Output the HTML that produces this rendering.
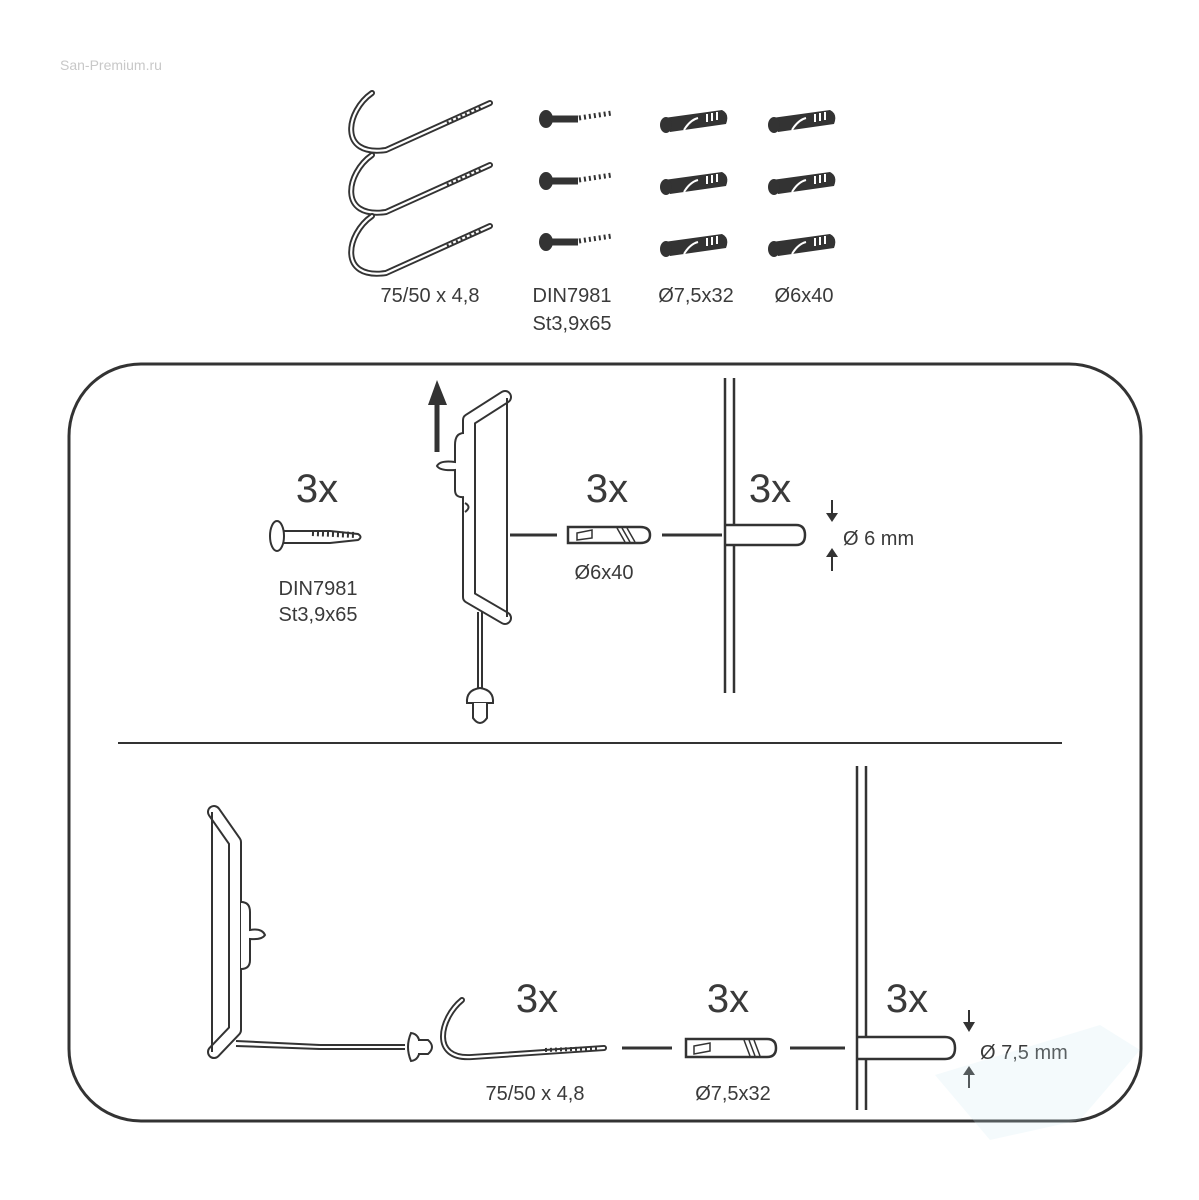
<!DOCTYPE html>
<html><head><meta charset="utf-8"><style>
html,body{margin:0;padding:0;background:#fff;}
svg{display:block;}
text{font-family:"Liberation Sans",sans-serif;fill:#3a3a3a;}
</style></head><body>
<svg width="1199" height="1200" viewBox="0 0 1199 1200" xmlns="http://www.w3.org/2000/svg">
<defs>
<g id="hook">
<path d="M0,0 C-26,18 -34,64 14,57 L118,10" fill="none" stroke="#333" stroke-width="6" stroke-linecap="round"/>
<path d="M0,0 C-26,18 -34,64 14,57 L118,10" fill="none" stroke="#fff" stroke-width="2.2" stroke-linecap="round"/>
<path d="M75,30 L110,14" stroke="#333" stroke-width="3" stroke-dasharray="2,3"/>
</g>
<g id="screwT">
<ellipse cx="0" cy="0" rx="7" ry="9" fill="#333"/>
<rect x="5" y="-3.5" width="27" height="7" fill="#333"/>
<path d="M33,-1 L66,-6" stroke="#333" stroke-width="5" stroke-dasharray="2,3"/>
</g>
<g id="dowelT">
<path d="M0,-6 L58,-14 Q66,-10 62,0 L6,8 Z" fill="#333"/>
<ellipse cx="2" cy="1" rx="6" ry="8" fill="#333"/>
<path d="M20,6 Q26,-4 34,-6" stroke="#fff" stroke-width="2" fill="none"/>
<rect x="42" y="-10" width="2" height="8" fill="#fff"/><rect x="47" y="-11" width="2" height="8" fill="#fff"/><rect x="52" y="-12" width="2" height="8" fill="#fff"/>
</g>
</defs>

<text x="60" y="70" font-size="14" style="fill:#c8c8c8">San-Premium.ru</text>

<use href="#hook" x="372" y="93"/>
<use href="#hook" x="372" y="155"/>
<use href="#hook" x="372" y="216"/>
<use href="#screwT" x="546" y="119"/>
<use href="#screwT" x="546" y="181"/>
<use href="#screwT" x="546" y="242"/>
<use href="#dowelT" x="664" y="124"/>
<use href="#dowelT" x="664" y="186"/>
<use href="#dowelT" x="664" y="248"/>
<use href="#dowelT" x="772" y="124"/>
<use href="#dowelT" x="772" y="186"/>
<use href="#dowelT" x="772" y="248"/>
<g font-size="20" text-anchor="middle">
<text x="430" y="302">75/50 x 4,8</text>
<text x="572" y="302">DIN7981</text>
<text x="572" y="330">St3,9x65</text>
<text x="696" y="302">Ø7,5x32</text>
<text x="804" y="302">Ø6x40</text>
</g>

<rect x="69" y="364" width="1072" height="757" rx="72" fill="none" stroke="#333" stroke-width="3"/>
<line x1="118" y1="743" x2="1062" y2="743" stroke="#333" stroke-width="2"/>

<text x="317" y="502" font-size="40" text-anchor="middle">3x</text>
<ellipse cx="277" cy="536" rx="7" ry="15" fill="none" stroke="#333" stroke-width="2"/>
<path d="M284,531 L330,531 L358,534 Q363,537 358,540 L330,543 L284,543" fill="none" stroke="#333" stroke-width="2"/>
<path d="M312,533 L356,535" stroke="#333" stroke-width="6" stroke-dasharray="2,3"/>
<g font-size="20" text-anchor="middle"><text x="318" y="595">DIN7981</text><text x="318" y="621">St3,9x65</text></g>

<path d="M437,452 L437,404" stroke="#333" stroke-width="5"/>
<path d="M428,405 L437,380 L447,405 Z" fill="#333"/>
<path d="M505,397 L469,420 L469,597 L505,618" fill="none" stroke="#333" stroke-width="14" stroke-linecap="round" stroke-linejoin="round"/>
<path d="M505,397 L469,420 L469,597 L505,618" fill="none" stroke="#fff" stroke-width="10" stroke-linecap="round" stroke-linejoin="round"/>
<line x1="507" y1="398" x2="507" y2="617" stroke="#333" stroke-width="2"/>
<path d="M464,433 Q455,433 455,445 L455,462 Q440,460 437,466 Q440,471 455,470 L455,490 Q455,498 464,497" fill="#fff" stroke="#333" stroke-width="2"/>
<path d="M465,503 Q472,507 465,512" fill="none" stroke="#333" stroke-width="2"/>
<line x1="478" y1="612" x2="478" y2="688" stroke="#333" stroke-width="2"/><line x1="482" y1="612" x2="482" y2="688" stroke="#333" stroke-width="2"/>
<path d="M467,703 Q466,690 480,688 Q494,690 493,703 Z" fill="#fff" stroke="#333" stroke-width="2"/>
<path d="M473,703 L473,718 Q480,728 487,718 L487,703" fill="#fff" stroke="#333" stroke-width="2"/>
<line x1="510" y1="535" x2="557" y2="535" stroke="#333" stroke-width="3"/>
<text x="607" y="502" font-size="40" text-anchor="middle">3x</text>
<path d="M568,527 L640,527 Q650,527 650,535 Q650,543 640,543 L568,543 Z" fill="#fff" stroke="#333" stroke-width="2.5"/>
<path d="M577,540 L577,533 L592,530 L592,538 Z" fill="none" stroke="#333" stroke-width="1.5"/>
<path d="M617,528 L625,542 M622,528 L630,542 M627,528 L635,542" stroke="#333" stroke-width="1.5"/>
<text x="604" y="579" font-size="20" text-anchor="middle">Ø6x40</text>
<line x1="662" y1="535" x2="722" y2="535" stroke="#333" stroke-width="3"/>
<line x1="725" y1="378" x2="725" y2="693" stroke="#333" stroke-width="2.5"/>
<line x1="734" y1="378" x2="734" y2="525" stroke="#333" stroke-width="2.5"/>
<line x1="734" y1="545" x2="734" y2="693" stroke="#333" stroke-width="2.5"/>
<path d="M725,525 L796,525 Q805,525 805,535 Q805,545 796,545 L725,545" fill="none" stroke="#333" stroke-width="2.5"/>
<text x="770" y="502" font-size="40" text-anchor="middle">3x</text>
<line x1="832" y1="500" x2="832" y2="514" stroke="#333" stroke-width="2"/><path d="M826,513 L832,522 L838,513 Z" fill="#333"/>
<line x1="832" y1="556" x2="832" y2="571" stroke="#333" stroke-width="2"/><path d="M826,557 L832,548 L838,557 Z" fill="#333"/>
<text x="843" y="545" font-size="20">Ø 6 mm</text>

<path d="M214,812 L235,842 L235,1030 L214,1052" fill="none" stroke="#333" stroke-width="14" stroke-linecap="round" stroke-linejoin="round"/>
<path d="M214,812 L235,842 L235,1030 L214,1052" fill="none" stroke="#fff" stroke-width="10" stroke-linecap="round" stroke-linejoin="round"/>
<line x1="212" y1="812" x2="212" y2="1052" stroke="#333" stroke-width="2"/>
<path d="M241,902 Q250,902 250,912 L250,930 Q262,928 265,935 Q262,940 250,939 L250,960 Q250,969 241,969" fill="#fff" stroke="#333" stroke-width="2"/>
<line x1="236" y1="1041" x2="320" y2="1045" stroke="#333" stroke-width="2"/>
<line x1="236" y1="1046" x2="320" y2="1049" stroke="#333" stroke-width="2"/>
<line x1="320" y1="1045" x2="405" y2="1045" stroke="#333" stroke-width="2"/><line x1="320" y1="1049" x2="405" y2="1049" stroke="#333" stroke-width="2"/>
<path d="M411,1033 Q405,1047 411,1061 Q420,1060 420,1047 Q420,1034 411,1033 Z" fill="#fff" stroke="#333" stroke-width="2"/>
<path d="M418,1040 L428,1040 Q436,1047 428,1054 L418,1054" fill="#fff" stroke="#333" stroke-width="2"/>
<path d="M462,1000 C440,1018 430,1060 472,1057 L604,1048" fill="none" stroke="#333" stroke-width="6" stroke-linecap="round"/>
<path d="M462,1000 C440,1018 430,1060 472,1057 L604,1048" fill="none" stroke="#fff" stroke-width="2.2" stroke-linecap="round"/>
<path d="M545,1050 L600,1048" stroke="#333" stroke-width="4" stroke-dasharray="2,3"/>
<text x="537" y="1012" font-size="40" text-anchor="middle">3x</text>
<text x="535" y="1100" font-size="20" text-anchor="middle">75/50 x 4,8</text>
<line x1="622" y1="1048" x2="672" y2="1048" stroke="#333" stroke-width="3"/>
<path d="M686,1039 L767,1039 Q776,1039 776,1048 Q776,1057 767,1057 L686,1057 Z" fill="#fff" stroke="#333" stroke-width="2.5"/>
<path d="M694,1054 L694,1046 L710,1043 L710,1051 Z" fill="none" stroke="#333" stroke-width="1.5"/>
<path d="M744,1040 L750,1056 M749,1040 L755,1056 M754,1040 L760,1056" stroke="#333" stroke-width="1.5"/>
<text x="728" y="1012" font-size="40" text-anchor="middle">3x</text>
<text x="733" y="1100" font-size="20" text-anchor="middle">Ø7,5x32</text>
<line x1="790" y1="1048" x2="845" y2="1048" stroke="#333" stroke-width="3"/>
<line x1="857" y1="766" x2="857" y2="1110" stroke="#333" stroke-width="2.5"/>
<line x1="866" y1="766" x2="866" y2="1037" stroke="#333" stroke-width="2.5"/>
<line x1="866" y1="1059" x2="866" y2="1110" stroke="#333" stroke-width="2.5"/>
<path d="M857,1037 L945,1037 Q955,1037 955,1048 Q955,1059 945,1059 L857,1059" fill="none" stroke="#333" stroke-width="2.5"/>
<text x="907" y="1012" font-size="40" text-anchor="middle">3x</text>
<line x1="969" y1="1010" x2="969" y2="1023" stroke="#333" stroke-width="2"/><path d="M963,1022 L969,1032 L975,1022 Z" fill="#333"/>
<line x1="969" y1="1074" x2="969" y2="1088" stroke="#333" stroke-width="2"/><path d="M963,1075 L969,1066 L975,1075 Z" fill="#333"/>
<text x="980" y="1059" font-size="20">Ø 7,5 mm</text>
<path d="M935,1075 L1100,1025 L1140,1050 L1080,1120 L990,1140 Z" fill="#cde6f0" opacity="0.22"/>
</svg>
</body></html>
